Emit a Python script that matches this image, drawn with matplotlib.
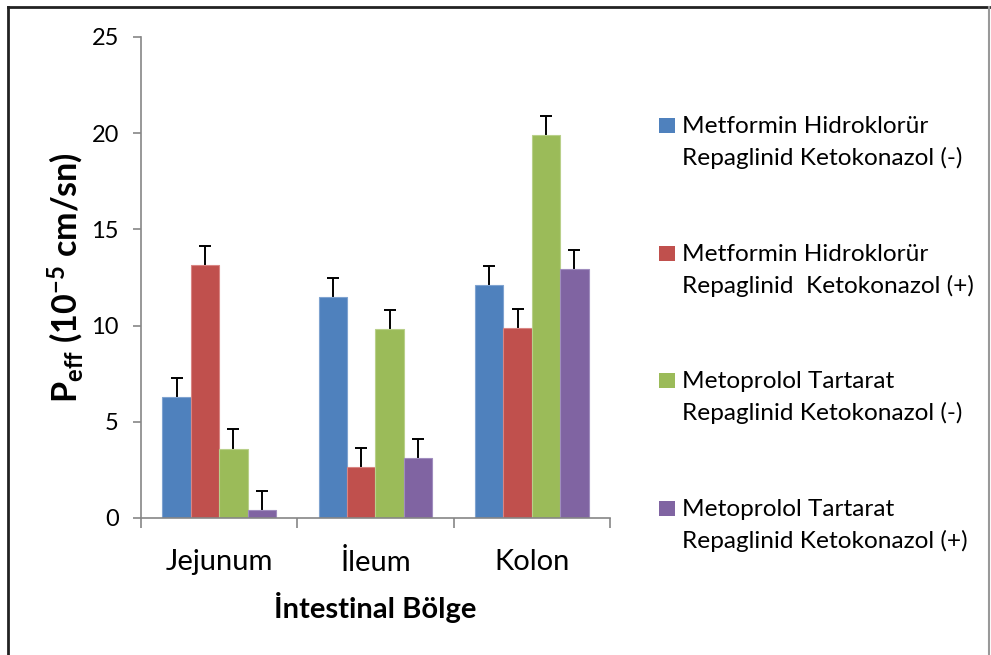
import matplotlib
matplotlib.use("Agg")
import matplotlib.pyplot as plt
import numpy as np
from matplotlib.lines import Line2D
from matplotlib.patches import Rectangle

plt.rcParams['font.family'] = ['Lato', 'DejaVu Sans']
plt.rcParams['mathtext.fontset'] = 'custom'
plt.rcParams['mathtext.rm'] = 'Lato:bold'
plt.rcParams['mathtext.it'] = 'Lato:bold'
plt.rcParams['mathtext.bf'] = 'Lato:bold'

regions = ["Jejunum", "İleum", "Kolon"]
series_names = [
    ["Metformin Hidroklorür", "Repaglinid Ketokonazol (-)"],
    ["Metformin Hidroklorür", "Repaglinid  Ketokonazol (+)"],
    ["Metoprolol Tartarat", "Repaglinid Ketokonazol (-)"],
    ["Metoprolol Tartarat", "Repaglinid Ketokonazol (+)"],
]
metformin_minus = [6.3, 11.5, 12.1]
metformin_plus = [13.15, 2.65, 9.85]
metoprolol_minus = [3.6, 9.8, 19.9]
metoprolol_plus = [0.4, 3.1, 12.95]
err_metformin_minus = [1.0, 1.0, 1.0]
err_metformin_plus = [1.0, 1.0, 1.0]
err_metoprolol_minus = [1.0, 1.0, 1.0]
err_metoprolol_plus = [1.0, 1.0, 1.0]

values = [metformin_minus, metformin_plus, metoprolol_minus, metoprolol_plus]
errors = [err_metformin_minus, err_metformin_plus, err_metoprolol_minus, err_metoprolol_plus]
colors = ["#4F81BD", "#C0504D", "#9BBB59", "#8064A2"]
edges = ["#7FA3D0", "#D98583", "#B9D08A", "#A08DBE"]

W, H = 991, 655
fig = plt.figure(figsize=(W / 100, H / 100), dpi=100)
ax = fig.add_axes([141/W, 1 - 518/H, (610 - 141)/W, (518 - 37)/H])

x = np.arange(len(regions))
w = 1 / 5.5
for i, (vals, errs) in enumerate(zip(values, errors)):
    pos = x + (i - 1.5) * w
    ax.bar(pos, vals, width=w, color=colors[i], edgecolor=edges[i], linewidth=0.8, zorder=2)
    # symmetric bars drawn beneath the columns, so only the upper half shows
    ax.errorbar(pos, vals, yerr=errs, fmt='none', ecolor='black',
                elinewidth=1.4, capsize=4.5, capthick=1.4, zorder=1)

ax.set_xlim(-0.5, 2.5)
ax.set_ylim(0, 25)
ax.set_yticks([0, 5, 10, 15, 20, 25])
ax.set_xticks(x)
ax.set_xticklabels(regions, fontsize=21)
ax.set_xticks([-0.5, 0.5, 1.5, 2.5], minor=True)
ax.tick_params(axis='x', which='major', length=0, pad=22)
ax.tick_params(axis='x', which='minor', length=7, width=1.2, color='#868686', direction='out')
ax.tick_params(axis='y', labelsize=17, length=6, width=1.2, color='#868686', direction='out', pad=10)
for s in ['top', 'right']:
    ax.spines[s].set_visible(False)
for s in ['left', 'bottom']:
    ax.spines[s].set_color('#868686')
    ax.spines[s].set_linewidth(1.2)

ax.set_ylabel("P$_{eff}$ (10$^{-5}$ cm/sn)", fontsize=24.5, fontweight='bold', labelpad=4)
ax.set_xlabel("İntestinal Bölge", fontsize=21, fontweight='bold', labelpad=12)

# legend: colour square beside a two-line caption
first_baseline = 133
step = 127.7
for i, (c, lines) in enumerate(zip(colors, series_names)):
    yb = first_baseline + i * step
    fig.add_artist(Rectangle((659/W, 1 - yb/H), 16/W, 15/H, transform=fig.transFigure,
                             facecolor=c, edgecolor='none'))
    fig.text(682/W, 1 - yb/H, lines[0], fontsize=17.6, va='baseline', ha='left')
    fig.text(682/W, 1 - (yb + 32)/H, lines[1], fontsize=17.6, va='baseline', ha='left')

# page frame around the figure
fig.add_artist(Line2D([8/W, 8/W], [0, 1 - 7/H], transform=fig.transFigure, color='#222222', lw=2))
fig.add_artist(Line2D([8/W, 989/W], [1 - 7/H, 1 - 7/H], transform=fig.transFigure, color='#222222', lw=2))
fig.add_artist(Line2D([989/W, 989/W], [0, 1 - 7/H], transform=fig.transFigure, color='#999999', lw=1.5))

fig.savefig("out.png", dpi=100)
